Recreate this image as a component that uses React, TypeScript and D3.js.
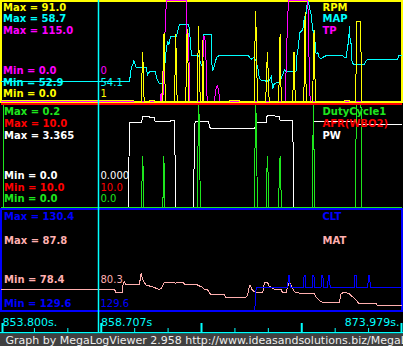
import React from "react";
import * as d3 from "d3";

type Pt = [number, number];

// ---- time axis ----
const timeDomain: Pt = [853.8, 873.979];
const cursorTime = 858.707;
const tickDivisions = 12;
const majorEvery = 3;

// ---- panel 1 : RPM / MAP / TP ----
const rpmData: Pt[] = [
  [853.8, 1], [860.5, 1], [860.55, 0],
  [860.88, 0], [860.91, 21], [860.96, 45], [860.99, 21], [861.03, 0],
  [861.3, 0], [861.31, 1], [861.55, 1], [861.56, 0],
  [861.95, 0], [861.98, 30], [862.03, 63], [862.06, 30], [862.1, 0],
  [862.55, 0], [862.59, 30], [862.62, 62], [862.65, 30], [862.69, 0],
  [863.12, 0], [863.16, 33], [863.19, 66], [863.24, 33], [863.27, 0],
  [863.7, 0], [863.73, 33], [863.76, 69], [863.81, 33], [863.85, 0],
  [863.95, 0], [863.98, 56], [864.01, 0],
  [865.32, 0], [865.33, 1], [865.82, 1], [865.83, 0],
  [866.56, 0], [866.59, 40], [866.64, 83], [866.69, 40], [866.73, 0],
  [867.15, 0], [867.18, 22], [867.23, 45], [867.28, 22], [867.32, 0],
  [867.8, 0], [867.83, 30], [867.87, 62], [867.9, 30], [867.93, 0],
  [868.5, 0], [868.54, 21], [868.57, 45], [868.6, 21], [868.64, 0],
  [869.06, 0], [869.09, 30], [869.13, 82], [869.16, 30], [869.19, 0],
  [869.51, 0], [869.54, 35], [869.58, 65], [869.61, 35], [869.65, 0],
  [871.1, 0], [871.11, 1], [871.35, 1], [871.36, 0],
  [871.68, 0], [871.71, 73], [871.93, 73], [871.96, 0],
  [873.979, 0],
];

const mapData: Pt[] = [
  [853.8, 54.1], [860.29, 54.1], [860.38, 54.9], [860.46, 55.1], [860.51, 55.3],
  [860.58, 55.1], [860.63, 54.9], [861.13, 54.9], [861.21, 54.5], [861.3, 54.7],
  [861.58, 54.7], [861.66, 54.3], [861.75, 54.1], [861.8, 54.0], [861.97, 54.0],
  [862.02, 54.2], [862.05, 54.8], [862.1, 55.5], [862.14, 55.9], [862.19, 56.3],
  [862.22, 56.4], [862.27, 56.2], [862.3, 56.4], [862.35, 56.7], [862.64, 56.7],
  [862.69, 56.9], [862.76, 57.2], [862.81, 57.4], [863.27, 57.4], [863.31, 57.1],
  [863.36, 56.3], [863.41, 55.6], [863.76, 55.6], [863.81, 55.5], [863.86, 55.2],
  [863.95, 55.0], [864.01, 56.8], [864.4, 56.8], [864.43, 55.2], [864.48, 54.7],
  [864.53, 54.9], [864.62, 55.3], [864.68, 55.5], [864.78, 55.6], [866.29, 55.6],
  [866.33, 55.5], [866.41, 55.4], [866.53, 55.5], [866.63, 55.4], [866.75, 54.9],
  [866.83, 54.3], [866.92, 54.2], [867.08, 54.2], [867.17, 54.1], [867.33, 54.2],
  [867.42, 54.4], [867.5, 53.7], [867.58, 54.0], [867.83, 54.1], [867.92, 54.3],
  [868.0, 54.5], [868.09, 54.8], [868.17, 54.7], [868.67, 54.7], [868.7, 55.5],
  [868.75, 55.9], [868.8, 56.1], [868.84, 56.9], [868.93, 57.0], [869.01, 57.1],
  [869.09, 57.8], [869.18, 58.0], [869.23, 58.6], [869.31, 58.7], [869.34, 58.4],
  [869.43, 58.0], [869.51, 57.1], [869.59, 56.9], [869.68, 55.7], [869.76, 55.8],
  [869.84, 55.5], [869.93, 55.4], [870.01, 55.5], [870.18, 55.6], [871.02, 55.6],
  [871.1, 55.5], [871.19, 55.5], [871.32, 56.5], [871.36, 57.3], [871.39, 56.6],
  [871.44, 56.3], [871.49, 55.3], [871.56, 55.1], [872.11, 55.1], [872.19, 55.3],
  [872.28, 55.4], [873.79, 55.4], [873.84, 55.6], [873.979, 55.6],
];

const tpData: Pt[] = [
  [853.8, 0], [861.85, 0], [861.88, 10], [861.91, 0], [861.97, 0],
  [862.02, 45], [862.1, 92], [862.15, 115], [863.14, 115], [863.17, 77],
  [863.27, 77], [863.31, 0], [863.95, 0], [863.98, 44], [864.03, 74],
  [864.08, 74], [864.13, 58], [864.2, 0], [864.56, 0], [864.65, 15],
  [864.72, 18], [864.78, 12], [864.83, 0], [868.12, 0], [868.19, 47],
  [868.24, 92], [868.3, 115], [869.26, 115], [869.31, 81], [869.34, 20],
  [869.39, 0], [873.979, 0],
];

// ---- panel 2 : DutyCycle1 / AFR(WBO2) / PW ----
const dutyData: Pt[] = [
  [853.8, 0],
  [860.9, 0], [860.92, 0.05], [860.96, 0.1], [860.99, 0.05], [861.01, 0],
  [861.97, 0], [861.99, 0.05], [862.02, 0.1], [862.05, 0.05], [862.07, 0],
  [863.71, 0], [863.73, 0.1], [863.78, 0.2], [863.83, 0.1], [863.85, 0],
  [866.58, 0], [866.6, 0.1], [866.65, 0.2], [866.7, 0.1], [866.72, 0],
  [867.17, 0], [867.19, 0.05], [867.23, 0.1], [867.28, 0.05], [867.3, 0],
  [867.8, 0], [867.82, 0.05], [867.87, 0.1], [867.91, 0.05], [867.93, 0],
  [869.5, 0], [869.51, 0.1], [869.55, 0.2], [869.58, 0.1], [869.6, 0],
  [871.66, 0], [871.68, 0.1], [871.71, 0.2], [871.94, 0.2], [871.97, 0.1], [871.99, 0],
  [873.979, 0],
];

const afrData: Pt[] = [[853.8, 10.0], [873.979, 10.0]];

const pwData: Pt[] = [
  [853.8, 0], [860.24, 0], [860.26, 1.3], [860.29, 2.79],
  [860.9, 2.79], [860.96, 2.97], [861.3, 2.97], [861.33, 2.93],
  [861.55, 2.93], [861.58, 2.81], [862.35, 2.81], [862.38, 2.84],
  [862.55, 2.84], [862.59, 1.43], [862.62, 0], [863.51, 0],
  [863.54, 1.37], [863.59, 2.81], [864.26, 2.81], [864.31, 2.7],
  [864.36, 2.57], [866.58, 2.57], [866.63, 2.68], [866.68, 2.79],
  [867.17, 2.79], [867.22, 3.01], [867.58, 3.01], [867.63, 2.97],
  [867.83, 2.97], [867.87, 2.84], [868.5, 2.84], [868.54, 1.43],
  [868.57, 0], [869.48, 0], [869.51, 1.37], [869.54, 2.81],
  [871.69, 2.81], [871.72, 2.7], [873.979, 2.7],
];

// ---- panel 3 : CLT / MAT ----
const cltData: Pt[] = [
  [853.8, 129.6], [866.6, 129.6], [866.63, 129.9], [866.68, 130.0],
  [868.25, 130.0], [868.27, 130.1], [868.29, 130.2], [868.34, 130.2], [868.36, 130.1], [868.38, 130.0],
  [869.04, 130.0], [869.06, 130.1], [869.08, 130.2], [869.13, 130.2], [869.15, 130.1], [869.17, 130.0],
  [869.48, 130.0], [869.5, 130.1], [869.52, 130.2], [869.57, 130.2], [869.59, 130.1], [869.61, 130.0],
  [869.93, 130.0], [869.95, 130.1], [869.97, 130.2], [870.02, 130.2], [870.04, 130.1], [870.06, 130.0],
  [870.26, 130.0], [870.28, 130.1], [870.3, 130.2], [870.35, 130.2], [870.37, 130.1], [870.39, 130.0],
  [871.6, 130.0], [871.62, 130.1], [871.64, 130.2], [871.69, 130.2], [871.71, 130.1], [871.73, 130.0],
  [872.28, 130.0], [872.3, 130.1], [872.32, 130.2], [872.37, 130.2], [872.39, 130.1], [872.41, 130.0],
  [873.979, 130.0],
];

const matData: Pt[] = [
  [853.8, 80.3], [859.54, 80.3], [859.62, 80.0], [859.94, 80.0], [859.97, 80.9],
  [860.04, 81.0], [860.09, 80.8], [860.79, 80.8], [860.88, 81.8], [860.96, 81.2],
  [861.13, 80.7], [861.38, 80.6], [861.55, 80.5], [861.63, 80.4], [861.8, 80.3],
  [861.88, 80.4], [861.97, 80.7], [862.05, 81.0], [862.55, 81.0], [862.6, 80.9],
  [862.97, 81.0], [863.06, 80.8], [863.65, 80.8], [863.73, 80.7], [863.98, 80.5],
  [864.06, 80.3], [864.21, 80.3], [864.31, 80.0], [864.4, 79.8], [865.07, 79.8],
  [865.12, 79.6], [866.16, 79.6], [866.24, 79.8], [866.29, 80.4], [866.36, 80.7],
  [866.46, 80.3], [866.58, 80.1], [866.83, 80.0], [866.99, 80.0], [867.08, 80.9],
  [867.17, 81.0], [867.25, 80.9], [867.33, 80.6], [867.5, 80.4], [867.67, 80.3],
  [867.92, 80.3], [868.0, 80.0], [868.17, 80.0], [868.25, 80.6], [868.34, 81.0],
  [868.42, 80.7], [868.5, 80.4], [868.59, 80.1], [868.75, 80.0], [869.01, 79.9],
  [869.59, 79.9], [869.68, 79.6], [869.84, 79.3], [870.01, 79.1], [870.85, 79.1],
  [870.93, 79.9], [871.02, 80.0], [871.19, 80.0], [871.36, 79.9], [871.53, 79.6],
  [871.7, 79.3], [871.83, 79.0], [872.7, 79.0], [872.78, 78.8], [873.979, 78.8],
];

// ---- labels ----
const panel1Names = ["RPM", "MAP", "TP"];
const panel1Max = ["91.0", "58.7", "115.0"];
const panel1Min = ["0.0", "52.9", "0.0"];
const panel1Cursor = ["1", "54.1", "0"];

const panel2Names = ["DutyCycle1", "AFR(WBO2)", "PW"];
const panel2Max = ["0.2", "10.0", "3.365"];
const panel2Min = ["0.0", "10.0", "0.0"];
const panel2Cursor = ["0.0", "10.0", "0.000"];

const panel3Names = ["CLT", "MAT"];
const panel3Max = ["130.4", "87.8"];
const panel3Min = ["129.6", "78.4"];
const panel3Cursor = ["129.6", "80.3"];

const footerText = "Graph by MegaLogViewer 2.958 http://www.ideasandsolutions.biz/MegaL";

const FONT = "'DejaVu Sans', Verdana, sans-serif";
const YELLOW = "#ffff00";
const CYAN = "#00ffff";
const MAGENTA = "#ff00ff";
const GREEN = "#1ee61e";
const RED = "#ff0000";
const WHITE = "#ffffff";
const BLUE = "#0000ff";
const PINK = "#ffafaf";

type PanelText = {
  names: string[];
  maxs: string[];
  mins: string[];
  curs: string[];
  colors: string[];
  maxBase: number;
  minBase: number; // baseline of the LAST (bottom) min row
  spacing: number;
  labelX: number;
};

function PanelLabels({ p }: { p: PanelText }) {
  const n = p.names.length;
  const rows = [];
  for (let i = 0; i < n; i++) {
    const yb = p.maxBase + i * p.spacing;
    rows.push(
      <text key={"mx" + i} x={p.labelX} y={yb} fill={p.colors[i]} fontWeight="bold">
        {"Max = " + p.maxs[i]}
      </text>
    );
    rows.push(
      <text key={"lg" + i} x={322.5} y={yb} fill={p.colors[i]} fontWeight="bold">
        {p.names[i]}
      </text>
    );
  }
  // min rows are listed in reverse order (last series on top)
  for (let j = 0; j < n; j++) {
    const idx = n - 1 - j;
    const yb = p.minBase - (n - 1 - j) * p.spacing;
    rows.push(
      <text key={"mn" + j} x={p.labelX} y={yb} fill={p.colors[idx]} fontWeight="bold">
        {"Min = " + p.mins[idx]}
      </text>
    );
    rows.push(
      <text key={"cv" + j} x={100.5} y={yb} fill={p.colors[idx]}>
        {p.curs[idx]}
      </text>
    );
  }
  return <g fontFamily={FONT} fontSize={10}>{rows}</g>;
}

export default function App() {
  const x = d3.scaleLinear().domain(timeDomain).range([0.5, 401.5]);

  const yRpm = d3.scaleLinear().domain([0, 91]).range([101.5, 2]);
  const yMap = d3.scaleLinear().domain([52.9, 58.7]).range([102.6, 2]);
  const yTp = d3.scaleLinear().domain([0, 115]).range([101.5, 0.5]);

  const yDuty = d3.scaleLinear().domain([0, 0.2]).range([207.5, 104.5]);
  const yAfr = d3.scaleLinear().domain([0, 10]).range([207.5, 104]);
  const yPw = d3.scaleLinear().domain([0, 3.365]).range([207.5, 104.5]);

  const yMat = d3.scaleLinear().domain([78.4, 87.8]).range([310, 209]);
  const yClt = d3.scaleLinear().domain([129.6, 131.3]).range([311, 209]);

  const path = (data: Pt[], y: d3.ScaleLinear<number, number>) =>
    d3
      .line<Pt>()
      .x((d) => x(d[0]))
      .y((d) => y(d[1]))(data) || "";

  const cx = Math.round(x(cursorTime)) + 0.5;

  const ticks = d3.range(tickDivisions + 1).map((k) => ({
    t: timeDomain[0] + (k * (timeDomain[1] - timeDomain[0])) / tickDivisions,
    major: k % majorEvery === 0,
  }));

  const p1: PanelText = {
    names: panel1Names, maxs: panel1Max, mins: panel1Min, curs: panel1Cursor,
    colors: [YELLOW, CYAN, MAGENTA], maxBase: 10.8, minBase: 97.3, spacing: 11.6, labelX: 3,
  };
  const p2: PanelText = {
    names: panel2Names, maxs: panel2Max, mins: panel2Min, curs: panel2Cursor,
    colors: [GREEN, RED, WHITE], maxBase: 115.3, minBase: 202.3, spacing: 11.6, labelX: 4,
  };
  const p3: PanelText = {
    names: panel3Names, maxs: panel3Max, mins: panel3Min, curs: panel3Cursor,
    colors: [BLUE, PINK], maxBase: 220, minBase: 306.7, spacing: 23.6, labelX: 4,
  };

  const line = (d: string, color: string, w = 1) => (
    <path d={d} fill="none" stroke={color} strokeWidth={w} shapeRendering="crispEdges" />
  );

  return (
    <svg
      width={403}
      height={346}
      style={{ position: "absolute", left: 0, top: 0, display: "block" }}
    >
      <rect x={0} y={0} width={403} height={346} fill="#000" />

      {/* panel 1 */}
      <rect x={1} y={1} width={401} height={101} fill="none" stroke={YELLOW} strokeWidth={2} shapeRendering="crispEdges" />
      {line(path(mapData, yMap), CYAN)}
      {line(path(tpData, yTp), MAGENTA)}
      {line(path(rpmData, yRpm), YELLOW)}

      {/* panel 2 */}
      <path d="M3.5,104 V207.5 H402" fill="none" stroke={GREEN} strokeWidth={1.5} shapeRendering="crispEdges" />
      {line(path(pwData, yPw), WHITE)}
      {line(path(dutyData, yDuty), GREEN)}
      {line(path(afrData, yAfr), RED, 2)}

      {/* panel 3 */}
      <rect x={1} y={209} width={401} height={102} fill="none" stroke={BLUE} strokeWidth={2} shapeRendering="crispEdges" />
      {line(path(matData, yMat), PINK)}
      {line(path(cltData, yClt), BLUE)}

      {/* labels */}
      <PanelLabels p={p1} />
      <PanelLabels p={p2} />
      <PanelLabels p={p3} />

      {/* time axis */}
      <rect x={0} y={332} width={403} height={1.5} fill={CYAN} />
      {ticks.map((tk, i) =>
        tk.major ? (
          <rect key={i} x={Math.min(Math.max(x(tk.t) - 0.5, 1.5), 400.5)} y={323} width={2} height={10} fill={CYAN} />
        ) : (
          <rect key={i} x={x(tk.t)} y={328} width={1} height={5} fill={CYAN} />
        )
      )}
      <g fontFamily={FONT} fontSize={11} fill={CYAN}>
        <text x={2.5} y={326}>{timeDomain[0].toFixed(3) + "s."}</text>
        <text x={cx + 2.5} y={326}>{cursorTime.toFixed(3) + "s"}</text>
        <text x={399.5} y={326} textAnchor="end">{timeDomain[1].toFixed(3) + "s."}</text>
      </g>

      {/* cursor */}
      <line x1={cx} x2={cx} y1={0} y2={333} stroke={CYAN} strokeWidth={1.5} />

      {/* footer */}
      <rect x={0} y={333.5} width={403} height={12.5} fill="#404040" />
      <text x={5.5} y={343.5} fontFamily={FONT} fontSize={11} fill="#eeeeee">
        {footerText}
      </text>
    </svg>
  );
}
